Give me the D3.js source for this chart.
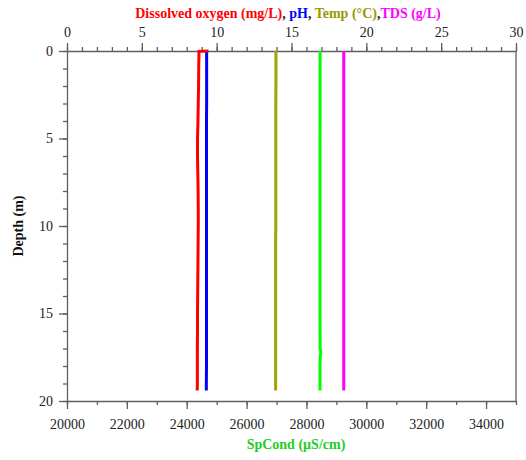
<!DOCTYPE html>
<html>
<head>
<meta charset="utf-8">
<script src="https://cdn.jsdelivr.net/npm/d3@7"></script>
<style>
  html, body { margin: 0; padding: 0; background: #fff; }
  svg { display: block; }
  text { font-family: "Liberation Serif", "Times New Roman", serif; }
</style>
</head>
<body>
<script>
// Depth profile (m) and the readings logged at each depth
const depth   = [0, 0.02, 1, 2, 3, 4, 5, 6, 7, 8, 9, 10, 11, 12, 13, 14, 15, 16, 17, 17.2, 17.5, 18, 19, 19.4];
const doMgL   = [9.45, 8.82, 8.80, 8.79, 8.77, 8.75, 8.72, 8.72, 8.74, 8.76, 8.77, 8.77, 8.76, 8.75, 8.74, 8.73, 8.72, 8.72, 8.71, 8.71, 8.71, 8.71, 8.71, 8.70];
const pH      = [9.33, 9.33, 9.33, 9.33, 9.33, 9.32, 9.32, 9.32, 9.32, 9.32, 9.32, 9.32, 9.32, 9.32, 9.32, 9.32, 9.32, 9.32, 9.32, 9.32, 9.32, 9.32, 9.31, 9.31];
const tempC   = [13.96, 13.96, 13.96, 13.96, 13.95, 13.95, 13.95, 13.95, 13.95, 13.95, 13.95, 13.95, 13.94, 13.94, 13.94, 13.94, 13.94, 13.94, 13.94, 13.94, 13.94, 13.94, 13.94, 13.94];
const tdsGL   = [18.49, 18.49, 18.49, 18.49, 18.49, 18.49, 18.49, 18.49, 18.49, 18.49, 18.49, 18.49, 18.49, 18.49, 18.49, 18.49, 18.49, 18.49, 18.49, 18.49, 18.49, 18.49, 18.49, 18.49];
const spCond  = [28455, 28455, 28455, 28455, 28455, 28455, 28452, 28452, 28452, 28452, 28452, 28452, 28452, 28452, 28452, 28452, 28452, 28455, 28455, 28480, 28458, 28452, 28452, 28452];

// Axis tick values
const topTicks    = [0, 5, 10, 15, 20, 25, 30];
const bottomTicks = [20000, 22000, 24000, 26000, 28000, 30000, 32000, 34000];
const depthTicks  = [0, 5, 10, 15, 20];

const W = 526, H = 460;
const m = { left: 67, right: 10, top: 51, bottom: 59 };
const pw = W - m.left - m.right, ph = H - m.top - m.bottom;

const svg = d3.select("body").append("svg").attr("width", W).attr("height", H);
const g = svg.append("g").attr("transform", `translate(${m.left},${m.top})`);

const xTop = d3.scaleLinear().domain([0, 30]).range([0, pw]);
const xBot = d3.scaleLinear().domain([20000, 35000]).range([0, pw]);
const y = d3.scaleLinear().domain([0, 20]).range([0, ph]);

const axisColor = "#5f5f5f";
const labelColor = "#222";

function styleAxis(sel, fs) {
  sel.selectAll("path.domain").attr("stroke", axisColor).attr("stroke-width", 1.3);
  sel.selectAll(".tick line").attr("stroke", axisColor).attr("stroke-width", 1.3);
  sel.selectAll(".tick text").attr("fill", labelColor)
    .style("font-family", "'Liberation Serif', 'Times New Roman', serif")
    .style("font-size", fs + "px");
}

// Minor ticks
g.append("g").call(d3.axisTop(xTop).tickValues(d3.range(0, 31, 1)).tickSize(4).tickFormat(""))
  .call(s => { s.select(".domain").remove(); styleAxis(s, 14); });
g.append("g").attr("transform", `translate(0,${ph})`)
  .call(d3.axisBottom(xBot).tickValues(d3.range(20000, 35001, 1000)).tickSize(4).tickFormat(""))
  .call(s => { s.select(".domain").remove(); styleAxis(s, 14); });
g.append("g").call(d3.axisLeft(y).tickValues(d3.range(0, 21, 1)).tickSize(4).tickFormat(""))
  .call(s => { s.select(".domain").remove(); styleAxis(s, 14); });

// Major ticks with labels
g.append("g")
  .call(d3.axisTop(xTop).tickValues(topTicks).tickSize(8).tickSizeOuter(0).tickPadding(6))
  .call(s => styleAxis(s, 14));
g.append("g").attr("transform", `translate(0,${ph})`)
  .call(d3.axisBottom(xBot).tickValues(bottomTicks).tickSize(8).tickSizeOuter(0).tickPadding(10).tickFormat(d3.format("d")))
  .call(s => styleAxis(s, 14));
g.append("g")
  .call(d3.axisLeft(y).tickValues(depthTicks).tickSize(8).tickSizeOuter(0).tickPadding(6))
  .call(s => styleAxis(s, 14));

// Right frame edge
g.append("line").attr("x1", pw).attr("x2", pw).attr("y1", 0).attr("y2", ph)
  .attr("stroke", axisColor).attr("stroke-width", 1.3);

// Profiles
const series = [
  { vals: spCond, scale: xBot, color: "#00ff00" },
  { vals: tdsGL,  scale: xTop, color: "#ff00ff" },
  { vals: tempC,  scale: xTop, color: "#a3a300" },
  { vals: pH,     scale: xTop, color: "#0000ff" },
  { vals: doMgL,  scale: xTop, color: "#ff0000" }
];
series.forEach(s => {
  const line = d3.line().x((d, i) => s.scale(s.vals[i])).y(d => y(d));
  g.append("path").datum(depth).attr("d", line)
    .attr("fill", "none").attr("stroke", s.color).attr("stroke-width", 3)
    .attr("stroke-linejoin", "miter");
});

// Top title with coloured parts
const title = svg.append("text").attr("x", 288).attr("y", 18).attr("text-anchor", "middle")
  .style("font-size", "14px").style("font-weight", "bold");
[["Dissolved oxygen (mg/L)", "#ff0000"], [", ", "#222"], ["pH", "#0000ff"], [", ", "#222"],
 ["Temp (°C)", "#999900"], [",", "#222"], ["TDS (g/L)", "#ff00ff"]].forEach(([t, c]) => {
  title.append("tspan").attr("fill", c).text(t);
});

// Bottom axis title
svg.append("text").attr("x", 296).attr("y", 449).attr("text-anchor", "middle")
  .attr("fill", "#22cc22").style("font-size", "14px").style("font-weight", "bold")
  .text("SpCond (µS/cm)");

// Depth axis title
svg.append("text").attr("transform", `translate(23,${m.top + ph / 2}) rotate(-90)`)
  .attr("text-anchor", "middle").attr("fill", "#111")
  .style("font-size", "14px").style("font-weight", "bold")
  .text("Depth (m)");
</script>
</body>
</html>
